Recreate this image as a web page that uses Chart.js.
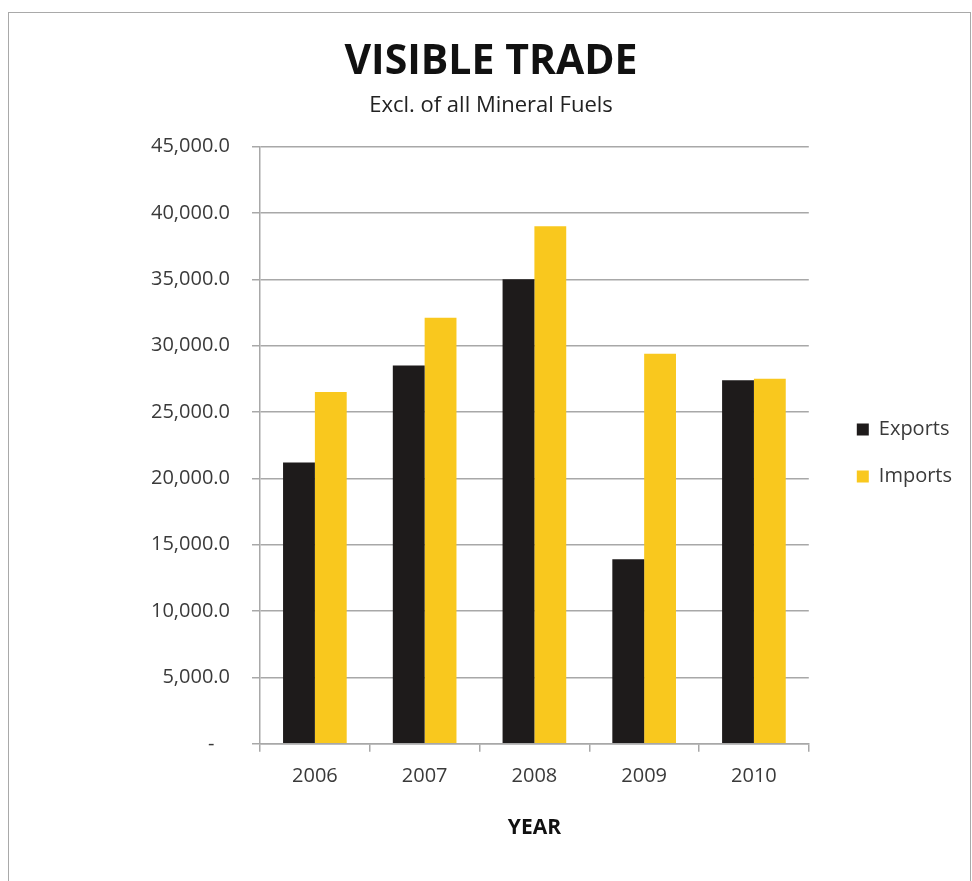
<!DOCTYPE html>
<html>
<head>
<meta charset="utf-8">
<script src="https://cdn.jsdelivr.net/npm/chart.js@4"></script>
<style>
  html, body { margin: 0; padding: 0; background: #fff; }
  .frame {
    position: absolute; left: 8px; top: 12px; width: 961px; height: 900px;
    border-left: 1.5px solid #a9a9a9; border-top: 1.5px solid #a9a9a9; border-right: 1.5px solid #a9a9a9;
  }
  #chart { position: absolute; left: 0; top: 0; }
</style>
</head>
<body>
<div class="frame"></div>
<canvas id="chart" width="972" height="881"></canvas>
<script>
const years = ["2006", "2007", "2008", "2009", "2010"];
const exportsValues = [21200, 28500, 35000, 13900, 27400];
const importsValues = [26500, 32100, 39000, 29400, 27500];
const yMin = 0;
const yMax = 45000;
const yStep = 5000;

const gridColor = "#a8a8a8";
const textColor = "#3a3a3a";
const fontName = "'Open Sans', sans-serif";

let ctx = document.getElementById("chart").getContext("2d");

new Chart(ctx, {
  type: "bar",
  data: {
    labels: years,
    datasets: [
      {
        label: "Exports",
        data: exportsValues,
        backgroundColor: "#1e1b1b",
        categoryPercentage: 0.58,
        barPercentage: 1.0,
      },
      {
        label: "Imports",
        data: importsValues,
        backgroundColor: "#f9c81e",
        categoryPercentage: 0.58,
        barPercentage: 1.0,
      },
    ],
  },
  options: {
    responsive: false,
    animation: false,
    layout: { padding: { left: 20, right: 10, top: 0, bottom: 40 } },
    plugins: {
      title: {
        display: true,
        text: "VISIBLE TRADE",
        color: "#111",
        font: { family: fontName, size: 41, weight: "bold" },
        padding: { top: 38, bottom: 0 },
      },
      subtitle: {
        display: true,
        text: "Excl. of all Mineral Fuels",
        color: "#222",
        font: { family: fontName, size: 22 },
        padding: { top: 5, bottom: 28 },
      },
      legend: {
        position: "right",
        title: {
          display: true,
          text: " ",
          font: { size: 10 },
          padding: { top: 27, bottom: 26 },
        },
        labels: {
          color: textColor,
          font: { family: fontName, size: 20 },
          boxWidth: 12,
          boxHeight: 12,
          padding: 27,
        },
      },
      tooltip: { enabled: false },
    },
    scales: {
      x: {
        grid: {
          display: true,
          drawOnChartArea: false,
          drawTicks: true,
          tickLength: 8,
          color: gridColor,
          lineWidth: 1.5,
        },
        border: { color: gridColor, width: 1.5 },
        ticks: {
          color: textColor,
          font: { family: fontName, size: 20 },
          padding: 12,
        },
        title: {
          display: true,
          text: "YEAR",
          color: "#111",
          font: { family: fontName, size: 21, weight: "bold" },
          padding: { top: 16, bottom: 0 },
        },
      },
      y: {
        min: yMin,
        max: yMax,
        grid: { color: gridColor, lineWidth: 1.5, tickLength: 8 },
        border: { color: gridColor, width: 1.5 },
        ticks: {
          stepSize: yStep,
          color: textColor,
          font: { family: fontName, size: 20 },
          padding: 22,
          callback: (v) =>
            v === 0
              ? "-   "
              : v.toLocaleString("en-US", { minimumFractionDigits: 1, maximumFractionDigits: 1 }),
        },
        afterFit: (scale) => {
          scale.width = 240;
        },
      },
      gap: {
        type: "linear",
        position: "right",
        display: true,
        grid: { display: false },
        border: { display: false },
        ticks: { display: false },
        afterFit: (scale) => {
          scale.width = 21;
        },
      },
    },
  },
});
</script>
</body>
</html>
